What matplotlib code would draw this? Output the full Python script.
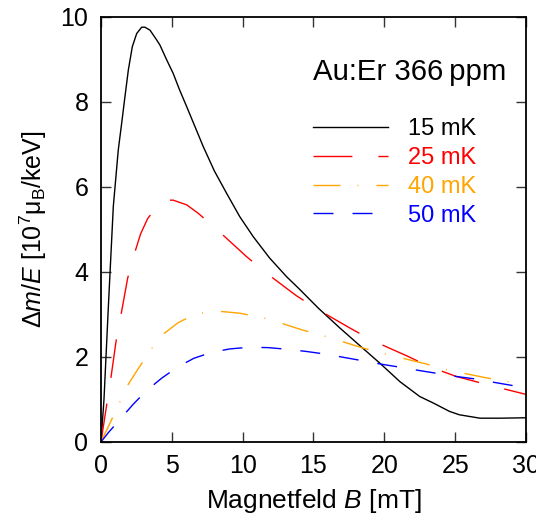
import numpy as np
import matplotlib
matplotlib.use("Agg")
import matplotlib.pyplot as plt

plt.rcParams['font.family'] = ['Liberation Sans', 'DejaVu Sans']
plt.rcParams['mathtext.fontset'] = 'custom'
plt.rcParams['mathtext.rm'] = 'Liberation Sans'
plt.rcParams['mathtext.it'] = 'Liberation Sans:italic'
plt.rcParams['mathtext.bf'] = 'Liberation Sans:bold'
plt.rcParams['lines.scale_dashes'] = False

# data (B in mT, dm/E in 1e7 muB/keV)
b_15 = [0, 0.21, 0.52, 0.87, 1.22, 1.46, 1.69, 1.93, 2.21, 2.52, 2.87, 3.1, 3.46, 3.93,
        4.16, 4.64, 5.1, 5.53, 6.05, 7.22, 8.0, 8.87, 9.8, 10.75, 11.9, 13.1, 14.0, 15.34,
        16.87, 18.3, 19.7, 21.1, 22.5, 23.5, 24.6, 25.3, 26.75, 28.2, 30.0]
dm_15 = [0, 0.99, 3.18, 5.54, 6.87, 7.5, 8.12, 8.75, 9.3, 9.61, 9.76, 9.76, 9.69, 9.46,
         9.34, 8.99, 8.67, 8.3, 7.89, 6.95, 6.38, 5.85, 5.3, 4.83, 4.33, 3.89, 3.6, 3.15,
         2.68, 2.26, 1.85, 1.42, 1.07, 0.91, 0.72, 0.64, 0.56, 0.56, 0.57]

b_25 = [0, 0.4, 0.68, 1.06, 1.39, 1.88, 2.35, 2.8, 3.3, 3.9, 4.3, 4.52, 5.1, 6.05, 6.87,
        8.28, 10.28, 11.65, 13.8, 15.34, 17.58, 19.2, 21.7, 23.2, 25.1, 27.6, 30.0]
dm_25 = [0, 0.87, 1.46, 2.36, 2.95, 3.85, 4.42, 4.9, 5.26, 5.52, 5.64, 5.69, 5.69, 5.58,
         5.38, 4.97, 4.36, 3.98, 3.44, 3.11, 2.68, 2.38, 2.01, 1.77, 1.54, 1.32, 1.12]

b_40 = [0, 0.52, 1.29, 1.86, 2.56, 3.58, 4.4, 5.46, 6.3, 7.1, 8.52, 9.8, 11.58, 12.87,
        14.17, 15.9, 18.4, 20.2, 22.9, 24.5, 27.2, 29.0, 30.0]
dm_40 = [0, 0.36, 0.91, 1.32, 1.69, 2.2, 2.54, 2.81, 2.95, 3.03, 3.07, 3.03, 2.91, 2.78,
         2.64, 2.48, 2.22, 2.06, 1.84, 1.69, 1.51, 1.4, 1.35]

b_50 = [0, 0.52, 1.39, 2.28, 3.22, 4.28, 5.39, 6.56, 7.81, 9.1, 10.47, 11.81, 13.2, 14.5,
        15.8, 18.5, 19.8, 21.1, 22.5, 25.1, 26.5, 27.8, 29.2, 30.0]
dm_50 = [0, 0.22, 0.55, 0.89, 1.21, 1.5, 1.76, 1.97, 2.11, 2.19, 2.23, 2.22, 2.18, 2.13,
         2.07, 1.91, 1.83, 1.76, 1.68, 1.54, 1.48, 1.4, 1.32, 1.28]

labels = ['15 mK', '25 mK', '40 mK', '50 mK']
colors = ['black', 'red', 'orange', 'blue']

fig = plt.figure(figsize=(5.36, 5.23), dpi=100)
ax = fig.add_axes([0.1884, 0.1549, 0.7929, 0.8126])

ax.plot(b_15, dm_15, color=colors[0], lw=1.0, label=labels[0])
ax.plot(b_25, dm_25, color=colors[1], lw=1.0, dashes=(28, 18.7), label=labels[1])
ax.plot(b_40, dm_40, color=colors[2], lw=1.0, dashes=(19.4, 12.2, 0.7, 13), label=labels[2])
ax.plot(b_50, dm_50, color=colors[3], lw=1.0, dashes=(14.4, 13.7), label=labels[3])

ax.set_xlim(0, 30)
ax.set_ylim(0, 10)
ax.set_xticks(np.arange(0, 31, 5))
ax.set_yticks(np.arange(0, 11, 2))
ax.tick_params(direction='in', length=7, width=1, top=True, right=True,
               labelsize=18, pad=9, color='#333333')
for s in ax.spines.values():
    s.set_linewidth(1.3)

ax.set_xlabel(r'Magnetfeld $B$ [mT]', fontsize=19, labelpad=6)
ax.set_ylabel(r'$\Delta m/E$ [10$^7$μ$_\mathrm{B}$/keV]', fontsize=18, labelpad=8)

ax.text(0.498, 0.87, 'Au:Er 366\u2009ppm', transform=ax.transAxes, fontsize=21.2,
        ha='left', va='center')

leg = ax.legend(loc='upper left', bbox_to_anchor=(0.498, 0.762), frameon=False,
                fontsize=17, handlelength=3.18, handletextpad=0.85, labelspacing=0.29,
                borderpad=0, borderaxespad=0)
for t, c in zip(leg.get_texts(), colors):
    t.set_color(c)

fig.savefig('out.png', dpi=100)
